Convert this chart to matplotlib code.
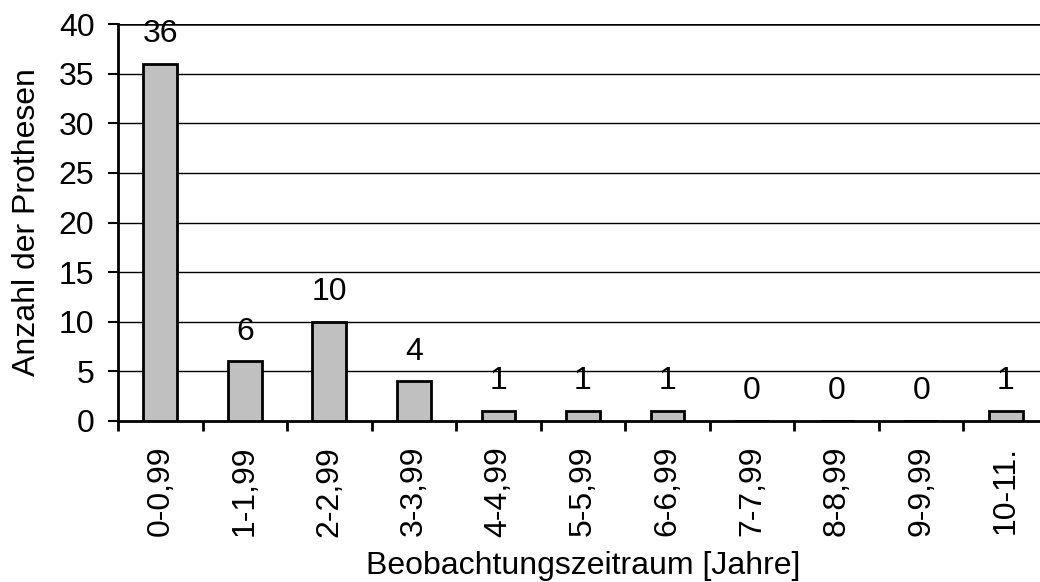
import numpy as np
import matplotlib
matplotlib.use('Agg')
import matplotlib.pyplot as plt

plt.rcParams['font.family'] = ['Liberation Sans', 'DejaVu Sans']

# data
kategorien = ['0-0,99', '1-1,99', '2-2,99', '3-3,99', '4-4,99', '5-5,99',
              '6-6,99', '7-7,99', '8-8,99', '9-9,99', '10-11.']
anzahl = [36, 6, 10, 4, 1, 1, 1, 0, 0, 0, 1]

fs = 23

fig = plt.figure(figsize=(10.4, 5.82), dpi=100)
ax = fig.add_axes([118/1040., 161/582., 930/1040., 397/582.])

x = np.arange(len(kategorien))
ax.bar(x, anzahl, width=0.40, color='#c0c0c0', edgecolor='black', linewidth=2, zorder=3)

# horizontal grid lines
for yy in range(5, 41, 5):
    ax.axhline(yy, color='black', lw=1.8 if yy == 40 else 1, zorder=1)

for xi, v in zip(x, anzahl):
    ax.annotate(str(v), (xi, v), xytext=(0, 10.5), textcoords='offset points',
                ha='center', va='bottom', fontsize=fs)

ax.set_xlim(-0.5, len(kategorien) - 0.5)
ax.set_ylim(0, 40)
ax.set_yticks(range(0, 41, 5))
ax.tick_params(axis='y', labelsize=fs, length=7, width=1.5, pad=10)

ax.set_xticks(x)
ax.set_xticklabels(kategorien, rotation=90, fontsize=fs)
ax.set_xticks(np.arange(-0.5, len(kategorien), 1), minor=True)
ax.tick_params(axis='x', which='major', length=0, pad=18)
ax.tick_params(axis='x', which='minor', length=7, width=2)

for s in ['top', 'right']:
    ax.spines[s].set_visible(False)
ax.spines['left'].set_linewidth(2)
ax.spines['bottom'].set_linewidth(2)

ax.set_ylabel('Anzahl der Prothesen', fontsize=fs, va='center')
ax.yaxis.set_label_coords((27 - 118) / 930., 0.5)
ax.set_xlabel('Beobachtungszeitraum [Jahre]', fontsize=fs, va='center')
ax.xaxis.set_label_coords((583 - 118) / 930., (421 - 566) / 397.)

fig.savefig('out.png', dpi=100)
